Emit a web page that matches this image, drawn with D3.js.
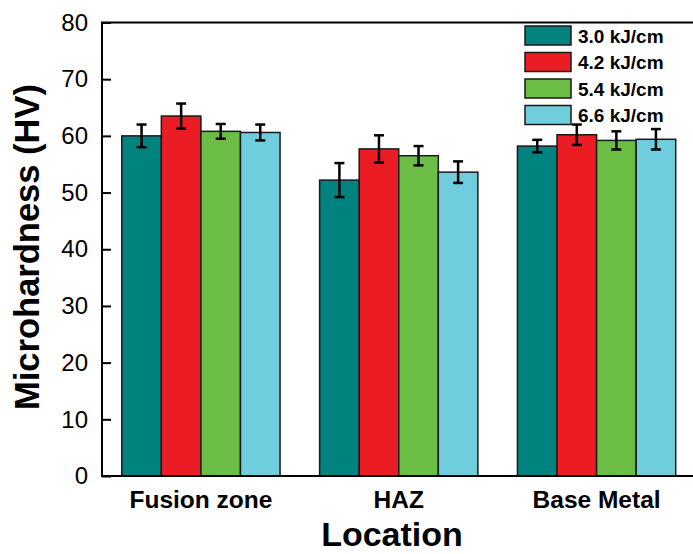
<!DOCTYPE html>
<html>
<head>
<meta charset="utf-8">
<script src="https://cdn.jsdelivr.net/npm/d3@7"></script>
<style>
  body { margin: 0; background: #fff; }
  svg { font-family: "Liberation Sans", Arial, sans-serif; }
</style>
</head>
<body>
<svg id="chart" width="693" height="554"></svg>
<script>
// chart data
var locations = ['Fusion zone', 'HAZ', 'Base Metal'];
var heatInputs = ['3.0 kJ/cm', '4.2 kJ/cm', '5.4 kJ/cm', '6.6 kJ/cm'];
var hardness = [
    [60.0, 63.5, 60.8, 60.6],
    [52.2, 57.7, 56.5, 53.6],
    [58.2, 60.2, 59.2, 59.4]
];
var hardnessErr = [
    [2.0, 2.2, 1.3, 1.4],
    [3.0, 2.4, 1.7, 1.9],
    [1.1, 1.8, 1.6, 1.8]
];
var yTicks = [0, 10, 20, 30, 40, 50, 60, 70, 80];
var colors = ['#00827e', '#ec1c24', '#6cbd45', '#6fcddd'];

var svg = d3.select('#chart');
var plotL = 102, plotR = 695.5, plotT = 22.5, plotB = 476;

var x = d3.scaleBand().domain(locations).range([plotL, plotR])
    .paddingInner(0.2).paddingOuter(0.1);
var xs = d3.scaleBand().domain(heatInputs).range([0, x.bandwidth()]);
var y = d3.scaleLinear().domain([0, 80]).range([plotB, plotT]);

// bars + error bars
var groups = svg.selectAll('g.loc').data(locations).enter().append('g')
    .attr('class', 'loc')
    .attr('transform', function(d) { return 'translate(' + x(d) + ',0)'; });

groups.each(function(loc, i) {
    var g = d3.select(this);
    var rows = heatInputs.map(function(h, j) {
        return { h: h, v: hardness[i][j], e: hardnessErr[i][j], c: colors[j] };
    });
    g.selectAll('rect').data(rows).enter().append('rect')
        .attr('x', function(d) { return xs(d.h); })
        .attr('y', function(d) { return y(d.v); })
        .attr('width', xs.bandwidth())
        .attr('height', function(d) { return y(0) - y(d.v); })
        .attr('fill', function(d) { return d.c; })
        .attr('stroke', '#1a1a1a')
        .attr('stroke-width', 1.5);

    var eb = g.selectAll('g.err').data(rows).enter().append('g').attr('class', 'err')
        .attr('stroke', '#000').attr('stroke-width', 2.5);
    eb.append('line')
        .attr('x1', function(d) { return xs(d.h) + xs.bandwidth() / 2; })
        .attr('x2', function(d) { return xs(d.h) + xs.bandwidth() / 2; })
        .attr('y1', function(d) { return y(d.v + d.e); })
        .attr('y2', function(d) { return y(d.v - d.e); });
    [1, -1].forEach(function(s) {
        eb.append('line')
            .attr('x1', function(d) { return xs(d.h) + xs.bandwidth() / 2 - 5; })
            .attr('x2', function(d) { return xs(d.h) + xs.bandwidth() / 2 + 5; })
            .attr('y1', function(d) { return y(d.v + s * d.e); })
            .attr('y2', function(d) { return y(d.v + s * d.e); });
    });
});

// frame (right side falls outside the picture)
svg.append('path')
    .attr('d', 'M702,' + plotT + 'H' + plotL + 'V' + plotB + 'H702')
    .attr('fill', 'none').attr('stroke', '#000').attr('stroke-width', 2);

// y axis, ticks pointing inward
var yAxis = svg.append('g').attr('transform', 'translate(' + plotL + ',0)')
    .call(d3.axisLeft(y).tickValues(yTicks).tickSize(-9).tickPadding(14));
yAxis.select('.domain').remove();
yAxis.selectAll('line').attr('stroke-width', 2);
yAxis.selectAll('text').attr('font-size', 24).attr('fill', '#000')
    .attr('font-family', '"Liberation Sans", Arial, sans-serif');

// x labels
svg.selectAll('text.cat').data(locations).enter().append('text')
    .attr('class', 'cat')
    .attr('x', function(d) { return x(d) + x.bandwidth() / 2; })
    .attr('y', 508)
    .attr('text-anchor', 'middle')
    .attr('font-size', 24.5).attr('font-weight', 'bold')
    .text(function(d) { return d; });

svg.append('text').attr('x', 392).attr('y', 546)
    .attr('text-anchor', 'middle').attr('font-size', 34).attr('font-weight', 'bold')
    .text('Location');

svg.append('text')
    .attr('transform', 'translate(39,247) rotate(-90)')
    .attr('text-anchor', 'middle').attr('font-size', 34.5).attr('font-weight', 'bold')
    .text('Microhardness (HV)');

// legend
var legend = svg.selectAll('g.leg').data(heatInputs).enter().append('g')
    .attr('class', 'leg')
    .attr('transform', function(d, i) { return 'translate(525,' + (26 + i * 26.5) + ')'; });
legend.append('rect').attr('width', 46).attr('height', 19)
    .attr('fill', function(d, i) { return colors[i]; })
    .attr('stroke', '#1a1a1a').attr('stroke-width', 1.5);
legend.append('text').attr('x', 53).attr('y', 16.5)
    .attr('font-size', 19).attr('font-weight', 'bold')
    .text(function(d) { return d; });
</script>
</body>
</html>
